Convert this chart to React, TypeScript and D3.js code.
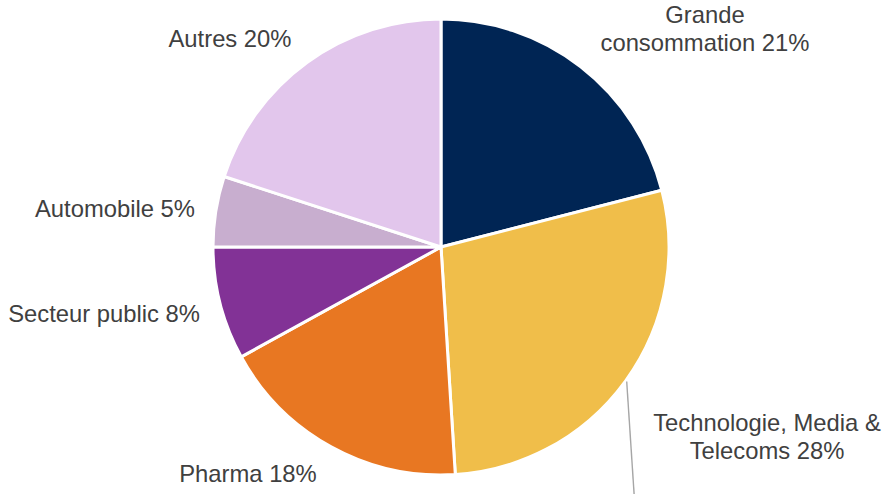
import React from "react";
import * as d3 from "d3";

const categories = [
  "Grande consommation",
  "Technologie, Media & Telecoms",
  "Pharma",
  "Secteur public",
  "Automobile",
  "Autres",
];
const values = [21, 28, 18, 8, 5, 20];
const colors = ["#002554", "#F0BE4A", "#E87722", "#823296", "#C8AECF", "#E2C6EC"];

// label lines (text only), anchors chosen for layout
const labelLines: string[][] = [
  ["Grande", "consommation 21%"],
  ["Technologie, Media &", "Telecoms 28%"],
  ["Pharma 18%"],
  ["Secteur public 8%"],
  ["Automobile 5%"],
  ["Autres 20%"],
];
const labelPos: { x: number; y: number; anchor: string }[] = [
  { x: 705, y: 23, anchor: "middle" },
  { x: 767, y: 431, anchor: "middle" },
  { x: 248, y: 482, anchor: "middle" },
  { x: 200, y: 322, anchor: "end" },
  { x: 195, y: 217, anchor: "end" },
  { x: 230, y: 47, anchor: "middle" },
];

export default function App() {
  const W = 885;
  const H = 494;
  const cx = 441;
  const cy = 247;
  const r = 228;
  const pie = d3.pie<number>().sort(null).value((d) => d);
  const arcs = pie(values);
  const arc = d3.arc<d3.PieArcDatum<number>>().innerRadius(0).outerRadius(r);

  return (
    <svg
      width={W}
      height={H}
      style={{ position: "absolute", left: 0, top: 0, background: "#fff" }}
      fontFamily="'Liberation Sans', Arial, sans-serif"
    >
      <g transform={`translate(${cx},${cy})`}>
        {arcs.map((a, i) => (
          <path key={categories[i]} d={arc(a) || ""} fill={colors[i]} stroke="#fff" strokeWidth={3} strokeLinejoin="round" />
        ))}
      </g>
      <line x1={626.7} y1={381.5} x2={634.5} y2={500} stroke="#A6A6A6" strokeWidth={1.4} />
      {labelLines.map((lines, i) => (
        <text key={i} x={labelPos[i].x} y={labelPos[i].y} textAnchor={labelPos[i].anchor} fontSize={23.8} fill="#404040">
          {lines.map((l, j) => (
            <tspan key={j} x={labelPos[i].x} dy={j === 0 ? 0 : 28}>
              {l}
            </tspan>
          ))}
        </text>
      ))}
    </svg>
  );
}
